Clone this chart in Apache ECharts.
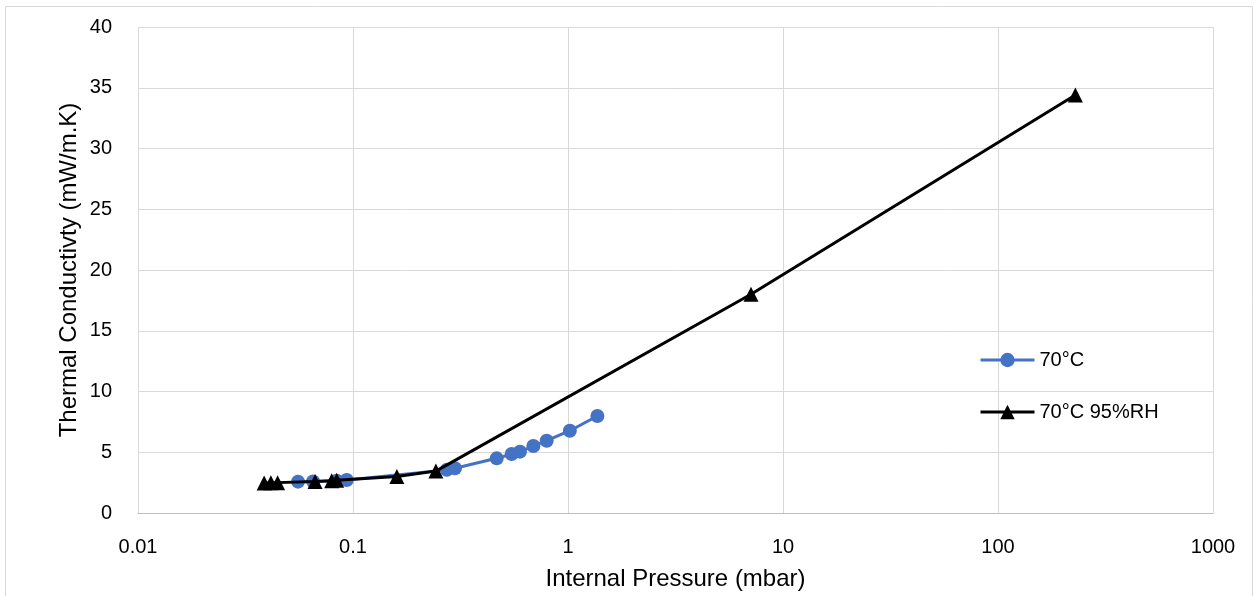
<!DOCTYPE html>
<html>
<head>
<meta charset="utf-8">
<script src="https://cdn.jsdelivr.net/npm/echarts@6/dist/echarts.min.js"></script>
<style>
html,body{margin:0;padding:0;background:#fff;}
#chart{width:1254px;height:596px;}
</style>
</head>
<body>
<div id="chart"></div>
<script>
// Data
const seriesNames = ['70°C', '70°C 95%RH'];
const pressure70 = [0.0555, 0.0652, 0.084, 0.0935, 0.273, 0.298, 0.466, 0.547, 0.598, 0.690, 0.796, 1.02, 1.37];
const conductivity70 = [2.58, 2.6, 2.65, 2.72, 3.55, 3.68, 4.50, 4.86, 5.05, 5.51, 5.95, 6.77, 7.98];
const pressureRH = [0.0386, 0.0415, 0.0446, 0.0666, 0.0796, 0.084, 0.160, 0.243, 7.1, 229];
const conductivityRH = [2.47, 2.48, 2.5, 2.6, 2.65, 2.7, 3.0, 3.45, 18.0, 34.4];
const xTicks = [0.01, 0.1, 1, 10, 100, 1000];
const yTicks = [0, 5, 10, 15, 20, 25, 30, 35, 40];

const font = 'Liberation Sans';
const chart = echarts.init(document.getElementById('chart'));
chart.setOption({
  animation: false,
  backgroundColor: '#fff',
  graphic: [{
    type: 'polyline',
    shape: { points: [[5.5, 600], [5.5, 6.5], [1252.5, 6.5], [1252.5, 600]] },
    style: { stroke: '#D9D9D9', lineWidth: 1, fill: null },
    silent: true
  }],
  grid: { left: 138, right: 41, top: 27, bottom: 83 },
  legend: {
    orient: 'vertical',
    left: 979, top: 350,
    padding: 0,
    itemGap: 32,
    itemWidth: 54, itemHeight: 18,
    lineStyle: { width: 3 },
    textStyle: { fontFamily: font, fontSize: 20, color: '#000' },
    data: seriesNames
  },
  xAxis: {
    type: 'log', logBase: 10, min: xTicks[0], max: xTicks[xTicks.length - 1],
    name: 'Internal Pressure (mbar)', nameLocation: 'middle', nameGap: 54,
    nameTextStyle: { fontFamily: font, fontSize: 24, color: '#000' },
    axisLine: { show: true, lineStyle: { color: '#BFBFBF', width: 1 } },
    axisTick: { show: false },
    axisLabel: { fontFamily: font, fontSize: 20, color: '#000', margin: 24,
      formatter: v => { const t = xTicks.find(x => Math.abs(Math.log10(x) - Math.log10(v)) < 1e-6); return t === undefined ? '' : String(t); } },
    splitLine: { show: true, lineStyle: { color: '#D9D9D9', width: 1 } },
    minorTick: { show: false }
  },
  yAxis: {
    type: 'value', min: 0, max: 40, interval: 5,
    name: 'Thermal Conductivty (mW/m.K)', nameLocation: 'middle', nameGap: 57,
    nameMoveOverlap: false,
    nameRotate: 90,
    nameTextStyle: { fontFamily: font, fontSize: 24, color: '#000' },
    axisLine: { show: false },
    axisTick: { show: false },
    axisLabel: { fontFamily: font, fontSize: 20, color: '#000', margin: 26,
      formatter: v => yTicks.includes(v) ? String(v) : '' },
    splitLine: { show: true, lineStyle: { color: '#D9D9D9', width: 1 } }
  },
  series: [
    {
      name: seriesNames[0], type: 'line',
      data: pressure70.map((p, i) => [p, conductivity70[i]]),
      symbol: 'circle', symbolSize: 14,
      lineStyle: { color: '#4472C4', width: 3 },
      itemStyle: { color: '#4472C4' },
      z: 2
    },
    {
      name: seriesNames[1], type: 'line',
      data: pressureRH.map((p, i) => [p, conductivityRH[i]]),
      symbol: 'triangle', symbolSize: 15,
      lineStyle: { color: '#000', width: 3 },
      itemStyle: { color: '#000' },
      z: 3
    }
  ]
});
</script>
</body>
</html>
